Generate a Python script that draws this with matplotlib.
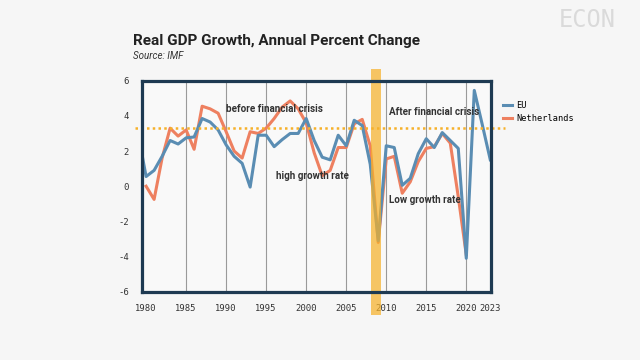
import numpy as np
import matplotlib
matplotlib.use("Agg")
import matplotlib.pyplot as plt
from matplotlib.patches import Rectangle

plt.rcParams['axes.unicode_minus'] = False

# Real GDP growth (%)
years_eu = np.arange(1979, 2024)
eu = [3.0, 0.55, 0.9, 1.7, 2.6, 2.4, 2.75, 2.8, 3.85, 3.65, 3.2,
      2.35, 1.7, 1.3, -0.05, 2.9, 2.9, 2.25, 2.65, 3.0, 3.0,
      3.85, 2.6, 1.65, 1.5, 2.9, 2.3, 3.75, 3.45, 1.25, -3.1,
      2.3, 2.2, 0.05, 0.45, 1.85, 2.7, 2.2, 3.05, 2.6, 2.15,
      -4.1, 5.45, 3.5, 1.5]

years_nl = np.arange(1980, 2021)
nl = [0.0, -0.75, 1.6, 3.3, 2.85, 3.2, 2.1, 4.55, 4.4, 4.15,
      3.1, 2.0, 1.6, 3.1, 3.0, 3.3, 3.85, 4.5, 4.85, 4.4,
      3.6, 1.9, 0.6, 0.9, 2.2, 2.2, 3.55, 3.8, 2.3, -3.2,
      1.55, 1.7, -0.4, 0.25, 1.4, 2.15, 2.25, 3.0, 2.45, -0.6,
      -3.9]

avg_line = 3.3
crisis = (2008.1, 2009.3)
xticks = [1980, 1985, 1990, 1995, 2000, 2005, 2010, 2015, 2020, 2023]
yticks = [-6, -4, -2, 0, 2, 4, 6]

blue = '#5a8db3'
orange = '#ee8060'
navy = '#1e3a52'
gold = '#f6b12a'

fig = plt.figure(figsize=(6.4, 3.6), dpi=100, facecolor='#f6f6f6')
ax = fig.add_axes([0.2214, 0.1897, 0.5453, 0.5861])
ax.set_facecolor('#f9f9f9')

for x in xticks[1:-1]:
    ax.axvline(x, color='#9a9a9a', lw=0.8, zorder=1)

ax.plot(years_eu, eu, color=blue, lw=2.2, label='EU', zorder=3)
ax.plot(years_nl, nl, color=orange, lw=2.2, label='Netherlands', zorder=2)

# dotted average line, runs past the frame
ax.axhline(avg_line, xmin=-0.02, xmax=1.04, color=gold, lw=1.8,
           linestyle=(0, (1, 1.3)), clip_on=False, zorder=4)

# crisis band drawn over the lines
ax.add_patch(Rectangle((crisis[0], -7.33), crisis[1] - crisis[0], 13.98,
                       facecolor=gold, alpha=0.72, edgecolor='none',
                       clip_on=False, zorder=5))

ax.set_xlim(1979.45, 2023.05)
ax.set_ylim(-6, 6)
ax.set_xticks(xticks)
ax.set_yticks(yticks)
ax.tick_params(length=0, labelsize=6.4, colors='#333333', pad=9)
for lab in ax.get_xticklabels() + ax.get_yticklabels():
    lab.set_family('DejaVu Sans Mono')
for s in ax.spines.values():
    s.set_color(navy)
    s.set_linewidth(2.3)
    s.set_zorder(6)

ann = dict(family='Roboto', weight='bold', fontsize=7.1, stretch='condensed',
           color='#333333', va='center', ha='left', zorder=7)
ax.text(1990.0, 4.39, 'before financial crisis', **ann)
ax.text(1996.2, 0.58, 'high growth rate', **ann)
ax.text(2010.3, 4.24, 'After financial crisis', **ann)
ax.text(2010.4, -0.78, 'Low growth rate', **ann)

ax.legend(loc='upper left', bbox_to_anchor=(1.025, 0.918), frameon=False,
          prop={'family': 'DejaVu Sans Mono', 'size': 6.2},
          handlelength=1.1, handletextpad=0.45, labelspacing=0.45,
          borderaxespad=0)

fig.text(0.208, 0.875, 'Real GDP Growth, Annual Percent Change',
         family='Roboto', fontsize=11, weight='bold', stretch='condensed',
         color='#222222', va='baseline')
fig.text(0.208, 0.845, 'Source: IMF', family='Roboto', stretch='condensed',
         style='italic', fontsize=7, color='#333333', va='center')
fig.text(0.962, 0.945, 'ECON', family='DejaVu Sans Mono', fontsize=17,
         color='#dadada', ha='right', va='center')

fig.savefig('out.png', dpi=100, facecolor=fig.get_facecolor())
